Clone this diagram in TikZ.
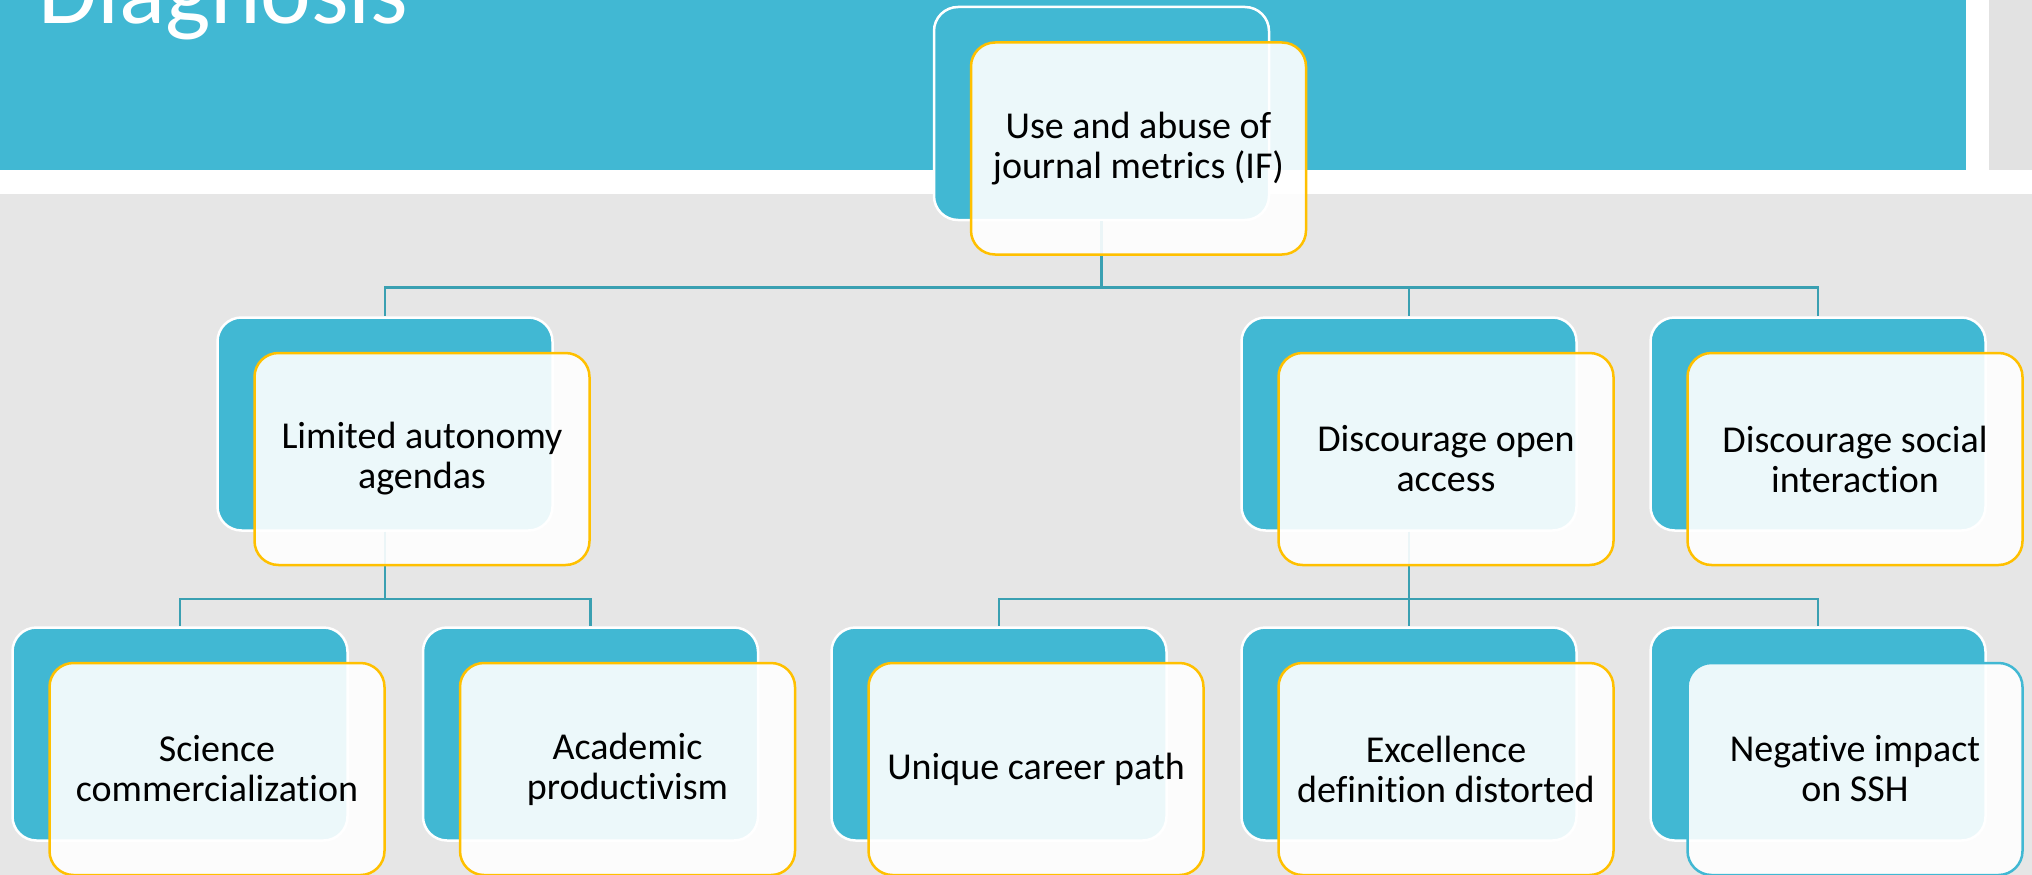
\documentclass[tikz,border=0pt]{standalone}
\usepackage{fontspec}
\setmainfont{Carlito}[Ligatures=NoCommon]
\definecolor{slideteal}{RGB}{65,184,211}
\definecolor{slidegold}{RGB}{255,192,0}
\definecolor{linkteal}{RGB}{58,160,178}
\definecolor{slidegray}{RGB}{230,230,230}
\definecolor{sidegray}{RGB}{226,226,226}
\tikzset{
  backbox/.style={rectangle, rounded corners=24pt, fill=slideteal, draw=white,
    line width=2.5pt, minimum width=335pt, minimum height=213pt, inner sep=0pt},
  frontbox/.style={rectangle, rounded corners=24pt, fill=white, fill opacity=0.9,
    text opacity=1, draw=slidegold, line width=2.5pt, minimum width=335pt,
    minimum height=212pt, inner sep=0pt, align=center,
    font=\fontsize{38}{40}\selectfont},
  link/.style={draw=linkteal, line width=2.5pt}
}
\begin{document}
\begin{tikzpicture}[x=1pt,y=-1pt]
    \useasboundingbox (0,0) rectangle (2032,875);
    % slide background
    \fill[white] (0,0) rectangle (2032,875);
    \fill[slideteal] (0,0) rectangle (1966,170);
    \fill[sidegray] (1989,0) rectangle (2032,170);
    \fill[slidegray] (0,194) rectangle (2032,875);
    \node[anchor=base west, inner sep=0pt, text=white,
      font=\fontsize{96}{96}\selectfont] (title) at (38,24) {Diagnosis};
    % back boxes
    \node[backbox] (top) at (1101.5,113.5) {};
    \node[backbox] (lim) at (385,424) {};
    \node[backbox] (oa) at (1409,424) {};
    \node[backbox] (soc) at (1818,424) {};
    \node[backbox] (sci) at (180,734) {};
    \node[backbox] (prod) at (590.5,734) {};
    \node[backbox] (car) at (999,734) {};
    \node[backbox] (exc) at (1409,734) {};
    \node[backbox] (ssh) at (1818,734) {};
    % connectors
    \draw[link] (top.south) -- ++(0,66) -| (lim.north);
    \draw[link] (top.south) -- ++(0,66) -| (oa.north);
    \draw[link] (top.south) -- ++(0,66) -| (soc.north);
    \draw[link] (lim.south) -- ++(0,67) -| (sci.north);
    \draw[link] (lim.south) -- ++(0,67) -| (prod.north);
    \draw[link] (oa.south) -- ++(0,67) -| (car.north);
    \draw[link] (oa.south) -- ++(0,67) -| (exc.north);
    \draw[link] (oa.south) -- ++(0,67) -| (ssh.north);
    % front boxes
    \node[frontbox] (top-t) at ([shift={(37,35)}]top.center) {Use and abuse of\\journal metrics (IF)};
    \node[frontbox] (lim-t) at ([shift={(37,35)}]lim.center) {Limited autonomy\\agendas};
    \node[frontbox] (oa-t) at ([shift={(37,35)}]oa.center) {Discourage open\\access};
    \node[frontbox] (soc-t) at ([shift={(37,35)}]soc.center) {Discourage social\\interaction};
    \node[frontbox] (sci-t) at ([shift={(37,35)}]sci.center) {Science\\commercialization};
    \node[frontbox] (prod-t) at ([shift={(37,35)}]prod.center) {Academic\\productivism};
    \node[frontbox] (car-t) at ([shift={(37,35)}]car.center) {Unique career path};
    \node[frontbox] (exc-t) at ([shift={(37,35)}]exc.center) {Excellence\\definition distorted};
    \node[frontbox, draw=slideteal] (ssh-t) at ([shift={(37,35)}]ssh.center) {Negative impact\\on SSH};
\end{tikzpicture}
\end{document}
